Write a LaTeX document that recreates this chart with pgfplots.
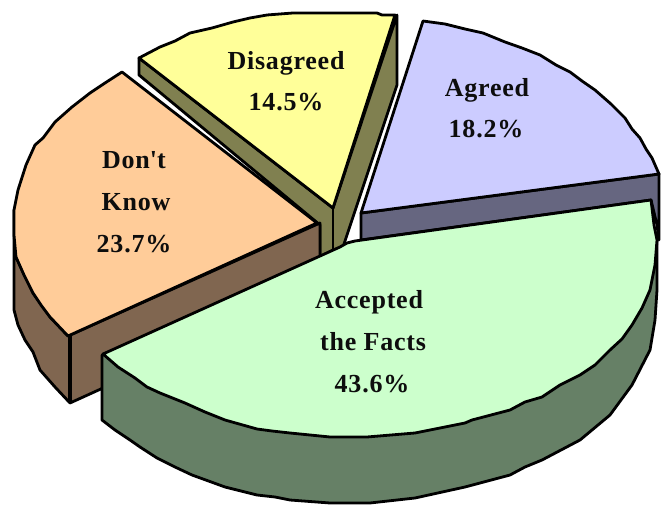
\documentclass[border=0pt]{standalone}
\usepackage{pgfplots}
\pgfplotsset{compat=1.18}
\usepackage{fontspec}
\setmainfont{Liberation Serif}[LetterSpace=3]
\definecolor{yt}{HTML}{FFFF99}\definecolor{ys}{HTML}{808050}
\definecolor{lt}{HTML}{CCCCFF}\definecolor{ls}{HTML}{666680}
\definecolor{ot}{HTML}{FFCC99}\definecolor{os}{HTML}{806650}
\definecolor{gt}{HTML}{CCFFCC}\definecolor{gs}{HTML}{668066}
\tikzset{lab/.style={font=\fontsize{26}{30}\selectfont\bfseries,align=center,text=black!95,inner sep=0pt,anchor=base}}
\begin{document}
\begin{tikzpicture}
\useasboundingbox (0,0) rectangle (663pt,505pt);
\begin{axis}[scale only axis,width=663pt,height=505pt,xmin=0,xmax=663,ymin=0,ymax=505,y dir=reverse,
 hide axis,clip=false,anchor=south west,at={(0,0)},
 every axis plot/.append style={draw=black,line width=2.8pt,line join=round,mark=none}]
% olive side of Disagreed
\addplot[fill=ys] coordinates {(139,58)(139,75)(320,225)(320,257)(333,250)(343,247)(397,85)(397,15)(333,208)} --cycle;
\addplot[draw=black,no markers] coordinates {(333,208)(333,250)};
% Agreed side
\addplot[fill=ls] coordinates {(361,213)(361,240)(651,200)(657,225)(659,240)(659,174)} --cycle;
% Agreed top
\addplot[fill=lt] coordinates {(423,21)(445,24)(465,29)(483,33)(505,42)(522,48)(540,55)(556,65)(570,72)(582,81)(595,90)(611,104)(625,118)(632,129)(640,138)(646,149)(652,158)(659,174)(361,213)} --cycle;
% Disagreed top
\addplot[fill=yt] coordinates {(139,58)(160,47)(175,41)(190,33)(212,28)(233,22)(250,18)(267,15)(293,13)(315,13)(340,13)(377,13)(382,15)(395,15)(333,208)} --cycle;
% Don't Know side
\addplot[fill=os] coordinates {(14,210)(14,310)(18,325)(25,340)(33,352)(40,370)(55,387)(70,403)(103,388)(320,258)(320,223)(68,336)(50,317)(33,293)(16,257)} --cycle;
\addplot[draw=black,no markers,line width=4.5pt] coordinates {(70,336)(70,403)};
% Don't Know top
\addplot[fill=ot] coordinates {(122,72)(105,83)(90,93)(72,107)(55,122)(43,138)(35,145)(26,165)(18,190)(14,210)(14,235)(16,257)(24,275)(33,293)(41,305)(50,317)(68,336)(317,223)} --cycle;
% Accepted side
\addplot[fill=gs] coordinates {(102,355)(102,420)(115,430)(130,440)(140,447)(157,458)(175,467)(192,475)(225,487)(257,495)(275,497)(290,500)(330,503)(370,503)(415,498)(465,487)(510,475)(525,467)(542,460)(580,440)(610,415)(632,385)(650,350)(655,320)(657,290)(657,240)} --cycle;
% Accepted top
\addplot[fill=gt] coordinates {(103,354)(118,367)(135,378)(147,387)(160,393)(185,403)(205,412)(225,420)(257,429)(272,431)(290,433)(330,437)(367,437)(415,433)(465,423)(472,420)(510,410)(525,402)(542,397)(560,385)(580,375)(595,365)(610,350)(622,339)(632,325)(642,308)(650,290)(655,265)(657,240)(654,225)(651,200)(355,241)(347,243)(340,247)} --cycle;
\node[lab] at (axis cs:286,70) {Disagreed};
\node[lab] at (axis cs:286,111) {14.5\%};
\node[lab] at (axis cs:487,97) {Agreed};
\node[lab] at (axis cs:486,138) {18.2\%};
\node[lab] at (axis cs:134,168) {Don\textquotesingle t};
\node[lab] at (axis cs:136,210) {Know};
\node[lab] at (axis cs:134,252) {23.7\%};
\node[lab] at (axis cs:369,308) {Accepted};
\node[lab] at (axis cs:373,350) {the Facts};
\node[lab] at (axis cs:372,392) {43.6\%};
\end{axis}
\end{tikzpicture}
\end{document}
